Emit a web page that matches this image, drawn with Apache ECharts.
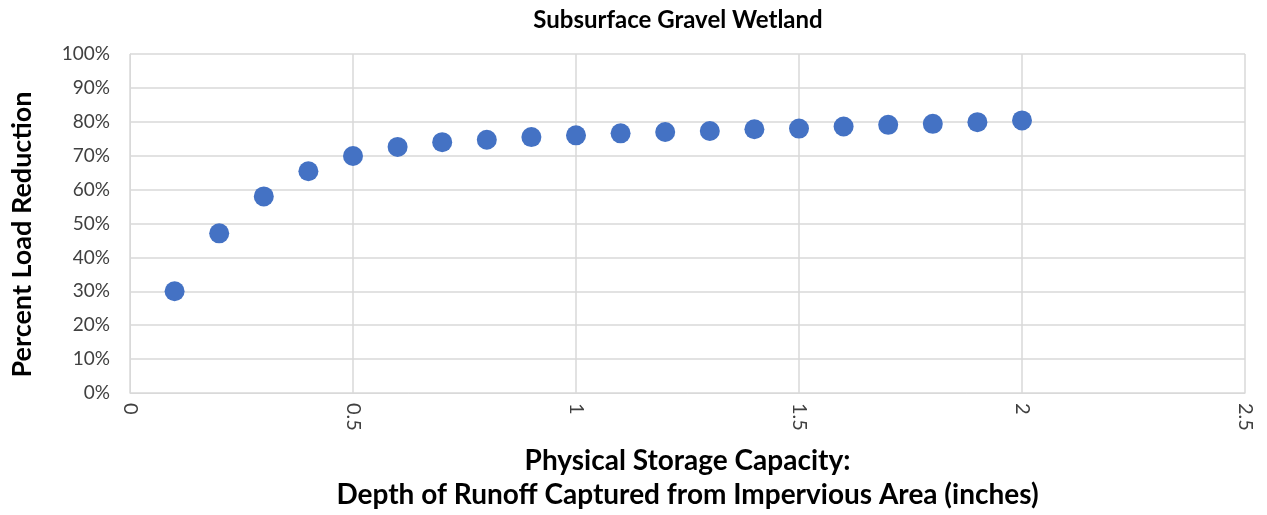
<!DOCTYPE html>
<html>
<head>
<meta charset="utf-8">
<script src="https://cdn.jsdelivr.net/npm/echarts@6/dist/echarts.min.js"></script>
<style>html,body{margin:0;padding:0;background:#fff}#c{width:1267px;height:515px}</style>
</head>
<body>
<div id="c"></div>
<script>
const depth = [0.1,0.2,0.3,0.4,0.5,0.6,0.7,0.8,0.9,1.0,1.1,1.2,1.3,1.4,1.5,1.6,1.7,1.8,1.9,2.0];
const reduction = [0.30,0.471,0.580,0.654,0.699,0.726,0.740,0.747,0.755,0.760,0.766,0.770,0.773,0.778,0.780,0.786,0.791,0.794,0.799,0.804];
const titleText = 'Subsurface Gravel Wetland';
const xName = 'Physical Storage Capacity:\nDepth of Runoff Captured from Impervious Area (inches)';
const yName = 'Percent Load Reduction';
const font = 'Lato, "Open Sans", sans-serif';

const chart = echarts.init(document.getElementById('c'));
chart.setOption({
  animation: false,
  title: {text: titleText, left: 673, textAlign: 'center', top: 3,
    textStyle: {fontFamily: font, fontSize: 24, fontWeight: 'bold', color: '#000'}},
  grid: {left: 130, right: 22, top: 54, bottom: 122, outerBoundsMode: 'none', containLabel: false},
  xAxis: {
    type: 'value', min: 0, max: 2.5, interval: 0.5,
    name: xName, nameLocation: 'middle', nameGap: 51,
    nameTextStyle: {fontFamily: font, fontSize: 28, fontWeight: 'bold', color: '#000', lineHeight: 34},
    axisLine: {show: true, lineStyle: {color: '#d9d9d9'}},
    axisTick: {show: false},
    splitLine: {show: true, lineStyle: {color: '#d9d9d9', width: 1.5}},
    axisLabel: {rotate: -90, margin: 10, fontFamily: font, fontSize: 20, color: '#404040'}
  },
  yAxis: {
    type: 'value', min: 0, max: 1, interval: 0.1,
    name: yName, nameLocation: 'middle', nameGap: 94,
    nameTextStyle: {fontFamily: font, fontSize: 27, fontWeight: 'bold', color: '#000', padding: [0, 22, 0, 0]},
    axisLine: {show: true, lineStyle: {color: '#d9d9d9'}},
    axisTick: {show: false},
    splitLine: {show: true, lineStyle: {color: '#d9d9d9', width: 1.5}},
    axisLabel: {margin: 20, fontFamily: font, fontSize: 19, color: '#404040',
      formatter: v => Math.round(v * 100) + '%'}
  },
  series: [{
    type: 'scatter',
    data: depth.map((d, i) => [d, reduction[i]]),
    symbolSize: 20,
    itemStyle: {color: '#4472C4', opacity: 1}
  }]
});
</script>
</body>
</html>
